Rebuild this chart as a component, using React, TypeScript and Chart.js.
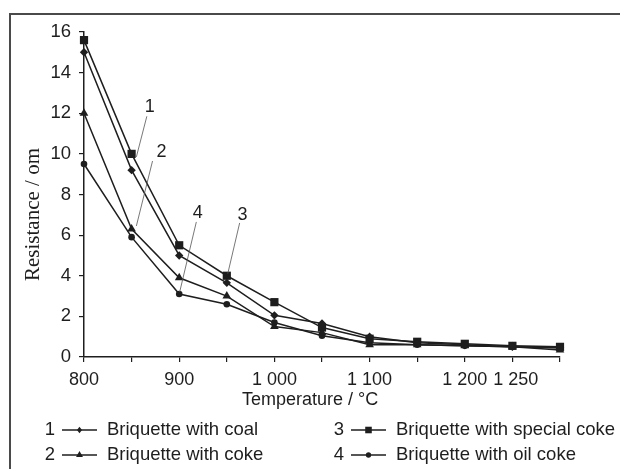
import React, { useEffect, useRef } from "react";
import { Chart, registerables } from "chart.js";

Chart.register(...registerables);

const temperatures = [800, 850, 900, 950, 1000, 1050, 1100, 1150, 1200, 1250, 1300];
const coal = [15.0, 9.2, 5.0, 3.65, 2.05, 1.65, 1.0, 0.7, 0.6, 0.5, 0.45];
const coke = [12.0, 6.3, 3.9, 3.0, 1.5, 1.2, 0.6, 0.6, 0.55, 0.5, 0.35];
const specialCoke = [15.6, 10.0, 5.5, 4.0, 2.7, 1.45, 0.9, 0.75, 0.65, 0.55, 0.5];
const oilCoke = [9.5, 5.9, 3.1, 2.6, 1.7, 1.05, 0.7, 0.6, 0.55, 0.5, 0.45];

const seriesNames = [
  "Briquette with coal",
  "Briquette with coke",
  "Briquette with special coke",
  "Briquette with oil coke",
];
const seriesNumbers = ["1", "2", "3", "4"];
const xTickLabels = [800, 900, 1000, 1100, 1200, 1250];
const xTitle = "Temperature / °C";
const yTitle = "Resistance / om";

// callout numbers with leader lines, anchored in data space
const calloutText = ["1", "2", "4", "3"];
const calloutLabelX = [869, 881.5, 919.5, 966.5];
const calloutLabelY = [12.3, 10.1, 7.1, 7.0];
const calloutFromX = [866, 872, 918, 963.5];
const calloutFromY = [11.85, 9.65, 6.65, 6.6];
const calloutToX = [855, 855, 900.5, 951];
const calloutToY = [9.85, 6.45, 3.2, 4.1];

const INK = "#1e1e1e";
const SANS = '"Liberation Sans", Arial, sans-serif';
const SERIF = '"Liberation Serif", "Times New Roman", serif';

const pointStyles = ["rectRot", "triangle", "rect", "circle"];
const pointRadii = [4.2, 5, 5.8, 3.3];

const fmt = (v: number) =>
  v >= 1000 ? Math.floor(v / 1000) + " " + String(v % 1000).padStart(3, "0") : String(v);

function drawMarker(ctx: CanvasRenderingContext2D, style: string, r: number, x: number, y: number) {
  ctx.beginPath();
  if (style === "circle") {
    ctx.arc(x, y, r, 0, Math.PI * 2);
  } else if (style === "rect") {
    const s = Math.SQRT1_2 * r;
    ctx.rect(x - s, y - s, 2 * s, 2 * s);
  } else if (style === "rectRot") {
    ctx.moveTo(x, y - r);
    ctx.lineTo(x + r * 0.75, y);
    ctx.lineTo(x, y + r);
    ctx.lineTo(x - r * 0.75, y);
    ctx.closePath();
  } else if (style === "triangle") {
    ctx.moveTo(x, y - r);
    ctx.lineTo(x + r * 0.866, y + r * 0.5);
    ctx.lineTo(x - r * 0.866, y + r * 0.5);
    ctx.closePath();
  }
  ctx.fill();
}

const decorPlugin = {
  id: "decor",
  beforeDraw(chart: any) {
    const ctx = chart.ctx as CanvasRenderingContext2D;
    ctx.save();
    ctx.fillStyle = "#ffffff";
    ctx.fillRect(0, 0, chart.width, chart.height);
    ctx.strokeStyle = "#4a4a4a";
    ctx.lineWidth = 2;
    ctx.beginPath();
    ctx.moveTo(10, chart.height);
    ctx.lineTo(10, 14);
    ctx.lineTo(chart.width, 14);
    ctx.stroke();
    ctx.restore();
  },
  afterDraw(chart: any) {
    const ctx = chart.ctx as CanvasRenderingContext2D;
    const xs = chart.scales.x;
    const ys = chart.scales.y;
    const area = chart.chartArea;
    ctx.save();
    ctx.fillStyle = INK;

    // x tick labels (keep a small gap between neighbours)
    ctx.font = `18px ${SANS}`;
    ctx.textAlign = "center";
    ctx.textBaseline = "middle";
    let prevRight = -Infinity;
    xTickLabels.forEach((v) => {
      const text = fmt(v);
      const w = ctx.measureText(text).width;
      let cx = xs.getPixelForValue(v);
      if (cx - w / 2 < prevRight + 6) cx = prevRight + 6 + w / 2;
      ctx.fillText(text, cx, area.bottom + 23);
      prevRight = cx + w / 2;
    });

    // y title
    ctx.save();
    ctx.translate(33, (area.top + area.bottom) / 2 + 20);
    ctx.rotate(-Math.PI / 2);
    ctx.font = `21px ${SERIF}`;
    ctx.textAlign = "center";
    ctx.textBaseline = "middle";
    ctx.fillText(yTitle, 0, 0);
    ctx.restore();

    // x title
    ctx.font = `18px ${SANS}`;
    ctx.textAlign = "center";
    ctx.textBaseline = "middle";
    ctx.fillText(xTitle, (area.left + area.right) / 2 - 12, area.bottom + 43);

    // callouts
    ctx.strokeStyle = "#555";
    ctx.lineWidth = 0.8;
    for (let i = 0; i < calloutText.length; i++) {
      ctx.beginPath();
      ctx.moveTo(xs.getPixelForValue(calloutFromX[i]), ys.getPixelForValue(calloutFromY[i]));
      ctx.lineTo(xs.getPixelForValue(calloutToX[i]), ys.getPixelForValue(calloutToY[i]));
      ctx.stroke();
      ctx.fillText(
        calloutText[i],
        xs.getPixelForValue(calloutLabelX[i]),
        ys.getPixelForValue(calloutLabelY[i])
      );
    }

    // legend (2 columns)
    const colX = [50, 339];
    const rowY = [area.bottom + 73, area.bottom + 98];
    chart.data.datasets.forEach((ds: any, i: number) => {
      const col = Math.floor(i / 2);
      const row = i % 2;
      const cx = colX[col];
      const cy = rowY[row];
      ctx.fillStyle = INK;
      ctx.font = `18.5px ${SANS}`;
      ctx.textBaseline = "middle";
      ctx.textAlign = "center";
      ctx.fillText(seriesNumbers[i], cx, cy);
      ctx.strokeStyle = INK;
      ctx.lineWidth = 1.4;
      ctx.beginPath();
      ctx.moveTo(cx + 12, cy);
      ctx.lineTo(cx + 47, cy);
      ctx.stroke();
      ctx.fillStyle = INK;
      drawMarker(ctx, pointStyles[i], pointRadii[i] * 0.8, cx + 29.5, cy);
      ctx.textAlign = "left";
      ctx.fillText(ds.label, cx + 57, cy);
    });
    ctx.restore();
  },
};

export default function App() {
  const ref = useRef<HTMLCanvasElement | null>(null);

  useEffect(() => {
    if (!ref.current) return;
    const series = [coal, coke, specialCoke, oilCoke];
    const chart = new Chart(ref.current, {
      type: "line",
      data: {
        datasets: series.map((vals, i) => ({
          label: seriesNames[i],
          data: temperatures.map((t, j) => ({ x: t, y: vals[j] })),
          borderColor: INK,
          backgroundColor: INK,
          borderWidth: 1.5,
          pointStyle: pointStyles[i] as any,
          pointRadius: pointRadii[i],
          pointBorderWidth: 0,
          pointBackgroundColor: INK,
          tension: 0,
          clip: false as any,
        })),
      },
      options: {
        responsive: false,
        animation: false,
        devicePixelRatio: 1,
        layout: { padding: { top: 32, right: 60, left: 0, bottom: 0 } },
        plugins: {
          legend: { display: false },
          tooltip: { enabled: false },
          title: { display: false },
        },
        scales: {
          x: {
            type: "linear",
            min: 800,
            max: 1300,
            afterFit: (s: any) => {
              s.height = 112;
            },
            border: { color: INK, width: 1.5 },
            grid: {
              drawOnChartArea: false,
              drawTicks: true,
              tickLength: 5,
              color: INK,
              lineWidth: 1.2,
            },
            ticks: {
              stepSize: 50,
              autoSkip: false,
              maxRotation: 0,
              padding: 6,
              color: INK,
              font: { family: SANS, size: 18 },
              callback: () => "",
            },
          },
          y: {
            type: "linear",
            min: 0,
            max: 16,
            afterFit: (s: any) => {
              s.width = 84;
            },
            border: { color: INK, width: 1.5 },
            grid: {
              drawOnChartArea: false,
              drawTicks: true,
              tickLength: 5,
              color: INK,
              lineWidth: 1.2,
            },
            ticks: {
              stepSize: 2,
              padding: 8,
              color: INK,
              font: { family: SANS, size: 18.5 },
            },
          },
        },
      },
      plugins: [decorPlugin],
    });
    return () => chart.destroy();
  }, []);

  return (
    <div
      style={{
        position: "fixed",
        left: 0,
        top: 0,
        width: 620,
        height: 469,
        background: "#fff",
      }}
    >
      <canvas ref={ref} width={620} height={469} style={{ display: "block" }} />
    </div>
  );
}
